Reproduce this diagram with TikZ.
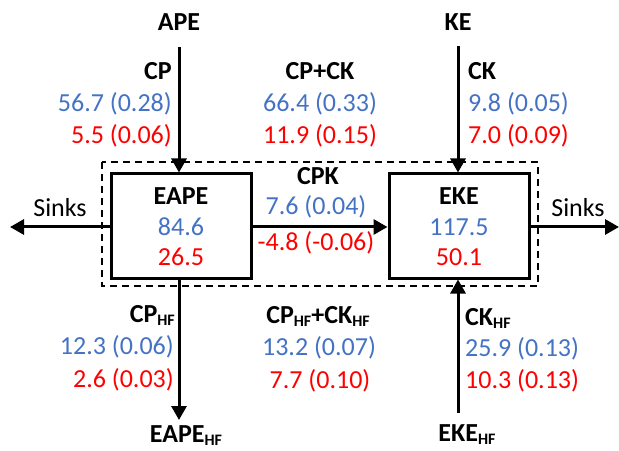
\documentclass[tikz,border=0pt]{standalone}
\usepackage{fontspec}
\setmainfont{Carlito}
\usetikzlibrary{arrows.meta}
\definecolor{valblue}{HTML}{4472C4}
\definecolor{valred}{HTML}{FF0000}
\newcommand\hfsub{\raisebox{-0.25ex}{\fontsize{16bp}{16bp}\selectfont HF}}
\tikzset{
  lbl/.style={font=\fontsize{26bp}{30bp}\selectfont\bfseries, inner sep=0pt},
  bval/.style={font=\fontsize{26bp}{30bp}\selectfont, text=valblue, inner sep=0pt},
  rval/.style={font=\fontsize{26bp}{30bp}\selectfont, text=valred, inner sep=0pt},
  plain/.style={font=\fontsize{26bp}{30bp}\selectfont, inner sep=0pt},
  ebox/.style={draw, line width=3bp, minimum width=140bp, minimum height=104bp, inner sep=0pt},
  flow/.style={line width=3bp, -{Triangle[length=14bp,width=15bp]}},
  frame/.style={line width=1.8bp, dash pattern=on 7bp off 5bp}
}
\begin{document}
\begin{tikzpicture}[x=1bp,y=-1bp]
\useasboundingbox (0,0) rectangle (619,451);

% reservoir boxes and the dashed enclosure
\draw[frame] (102,162) rectangle (538,286);
\node[ebox] (eape) at (181,226) {};
\node[ebox] (eke) at (459,226) {};

\node[lbl,anchor=base] at (181,205) {EAPE};
\node[bval,anchor=base] at (181,236) {84.6};
\node[rval,anchor=base] at (181,266) {26.5};
\node[lbl,anchor=base] at (459,205) {EKE};
\node[bval,anchor=base] at (459,236) {117.5};
\node[rval,anchor=base] at (459,266) {50.1};

% external reservoirs
\node[lbl,anchor=base] (ape) at (179,31) {APE};
\node[lbl,anchor=base] (ke) at (458,31) {KE};
\node[lbl,anchor=base] (eapehf) at (186,442) {EAPE\hfsub};
\node[lbl,anchor=base] (ekehf) at (467,441) {EKE\hfsub};
\coordinate (apeS) at (179,47);
\coordinate (keS) at (458,46);
\coordinate (eapehfE) at (179,420);
\coordinate (ekehfS) at (458,413);
\coordinate (sinkL) at (10,227);
\coordinate (sinkR) at (619,227);

% conversion arrows
\draw[flow] (apeS) -- (apeS |- eape.north);
\draw[flow] (keS) -- (keS |- eke.north);
\draw[flow] (eapehfE |- eape.south) -- (eapehfE);
\draw[flow] (ekehfS) -- (ekehfS |- eke.south);
\draw[flow] (eape.east |- 0,227) -- (eke.west |- 0,227);
\draw[flow] (eape.west |- 0,227) -- (sinkL);
\draw[flow] (eke.east |- 0,227) -- (sinkR);

\node[plain,anchor=base] (sinksL) at (60,217) {Sinks};
\node[plain,anchor=base] (sinksR) at (578,217) {Sinks};

% CP
\node[lbl,anchor=base east] at (172,80) {CP};
\node[bval,anchor=base east] at (172,112) {56.7 (0.28)};
\node[rval,anchor=base east] at (172,144) {5.5 (0.06)};
% CP+CK
\node[lbl,anchor=base] at (320,80) {CP+CK};
\node[bval,anchor=base] at (320,112) {66.4 (0.33)};
\node[rval,anchor=base] at (320,144) {11.9 (0.15)};
% CK
\node[lbl,anchor=base west] at (468,80) {CK};
\node[bval,anchor=base west] at (468,112) {9.8 (0.05)};
\node[rval,anchor=base west] at (468,144) {7.0 (0.09)};
% CPK
\node[lbl,anchor=base] at (318,185) {CPK};
\node[bval,anchor=base] at (316,215) {7.6 (0.04)};
\node[rval,anchor=base] at (316,251) {-4.8 (-0.06)};
% CP_HF
\node[lbl,anchor=base east] at (175,322) {CP\hfsub};
\node[bval,anchor=base east] at (174,354) {12.3 (0.06)};
\node[rval,anchor=base east] at (174,387) {2.6 (0.03)};
% CP_HF+CK_HF
\node[lbl,anchor=base] at (318,323) {CP\hfsub+CK\hfsub};
\node[bval,anchor=base] at (319,355) {13.2 (0.07)};
\node[rval,anchor=base] at (320,388) {7.7 (0.10)};
% CK_HF
\node[lbl,anchor=base west] at (465,325) {CK\hfsub};
\node[bval,anchor=base west] at (465,356) {25.9 (0.13)};
\node[rval,anchor=base west] at (465,388) {10.3 (0.13)};
\end{tikzpicture}
\end{document}
